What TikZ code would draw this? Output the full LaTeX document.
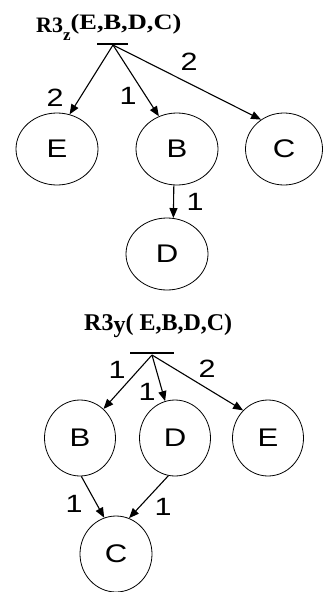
\documentclass[tikz,border=0pt]{standalone}
\usepackage{fontspec}
\setmainfont{Liberation Sans}
\newfontfamily\titlefont{Liberation Serif}
\usetikzlibrary{arrows.meta,shapes.geometric}
\newcommand\stretchx[1]{\scalebox{1.22}[1]{#1}}
\tikzset{
  vert/.style={draw, ellipse, line width=0.8pt, inner sep=0pt, font=\fontsize{25.5}{25.5}\selectfont},
  topv/.style={vert, minimum width=82pt, minimum height=72pt},
  botv/.style={vert, minimum width=71pt, minimum height=76pt},
  edge/.style={draw, line width=1.1pt, -{Triangle[length=10pt,width=8pt]}},
  wlabel/.style={font=\fontsize{25}{25}\selectfont, inner sep=0pt},
  bar/.style={line width=2.6pt},
  ttl/.style={font=\titlefont\bfseries\fontsize{22}{22}\selectfont, inner sep=0pt}
}
\begin{document}
\begin{tikzpicture}[x=1pt,y=-1pt]
\useasboundingbox (0,0) rectangle (322,592);
% top tree
\node[ttl, anchor=base west] (t1) at (36,32) {R3\raisebox{-8pt}{\fontsize{17}{17}\selectfont z}\scalebox{1.2}[1]{\raisebox{2.5pt}{(E,B,D,C)}}};
\coordinate (b1l) at (97,44);
\coordinate (b1r) at (128,44);
\draw[bar] (b1l) -- (b1r);
\coordinate (r1) at (113,45);
\node[topv] (E1) at (57,149) {\stretchx{E}};
\node[topv] (B1) at (177,149) {\stretchx{B}};
\node[topv, minimum width=77pt] (C1) at (284,149) {\stretchx{C}};
\node[topv] (D1) at (167,254) {\stretchx{D}};
\draw[edge] (r1) -- (E1.70);
\draw[edge] (r1) -- (B1.119);
\draw[edge] (r1) -- (C1.128);
\draw[edge] (B1.265) -- (D1.80);
\node[wlabel] (l1) at (55,98) {\stretchx{2}};
\node[wlabel] (l2) at (128,96) {\stretchx{1}};
\node[wlabel] (l3) at (189,62) {\stretchx{2}};
\node[wlabel] (l4) at (195,202) {\stretchx{1}};
% bottom tree
\node[ttl, font=\titlefont\bfseries\fontsize{24}{24}\selectfont, anchor=base west] (t2) at (84,330) {R3\raisebox{-2pt}{y}( E,B,D,C)};
\coordinate (b2l) at (130,353);
\coordinate (b2r) at (174,353);
\draw[bar] (b2l) -- (b2r);
\coordinate (r2) at (152,355);
\node[botv] (B2) at (80,438) {\stretchx{B}};
\node[botv] (D2) at (175,438) {\stretchx{D}};
\node[botv] (E2) at (268,438) {\stretchx{E}};
\node[botv, minimum width=72pt] (C2) at (116,554) {\stretchx{C}};
\draw[edge] (r2) -- (B2.51);
\draw[edge] (r2) -- (D2.105);
\draw[edge] (r2) -- (E2.132);
\draw[edge] (B2.272) -- (C2.108);
\draw[edge] (D2.260) -- (C2.70);
\node[wlabel] (m1) at (117,370) {\stretchx{1}};
\node[wlabel] (m2) at (147,392) {\stretchx{1}};
\node[wlabel] (m3) at (207,369) {\stretchx{2}};
\node[wlabel] (m4) at (74,504) {\stretchx{1}};
\node[wlabel] (m5) at (163,507) {\stretchx{1}};
\end{tikzpicture}
\end{document}
